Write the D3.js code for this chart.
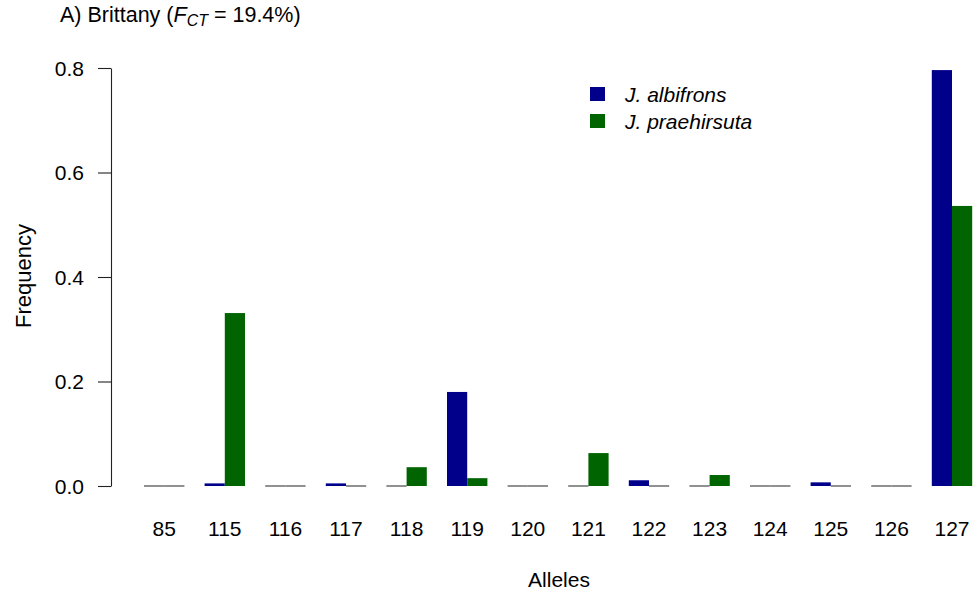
<!DOCTYPE html>
<html><head><meta charset="utf-8">
<script src="https://cdn.jsdelivr.net/npm/d3@7"></script>
<style>body{margin:0;background:#fff}svg{display:block}text{font-family:"Liberation Sans",Arial,Helvetica,sans-serif}</style>
</head><body>
<script>
const alleles = ["85","115","116","117","118","119","120","121","122","123","124","125","126","127"];
const albifrons = [0,0.005,0,0.005,0,0.180,0,0,0.011,0,0,0.007,0,0.796];
const praehirsuta = [0,0.331,0,0,0.036,0.015,0,0.063,0,0.021,0,0,0,0.536];
const seriesNames = ["J. albifrons","J. praehirsuta"];
const seriesColors = ["#00008B","#006400"];
const yTicks = [0,0.2,0.4,0.6,0.8];

const W=973,H=597, FS=21;
const svg=d3.select("body").append("svg").attr("width",W).attr("height",H);

const unit=20.2, x0=144-unit; // R barplot beside: space c(0,1)
const xs=d3.scaleLinear().domain([0,1]).range([x0,x0+unit]);
const y=d3.scaleLinear().domain([0,0.8]).range([486,68]);

const groups=alleles.map((a,i)=>({a,i,vals:[albifrons[i],praehirsuta[i]]}));
const g=svg.append("g");
groups.forEach(d=>{
  d.vals.forEach((v,j)=>{
    const left=xs(d.i*3+1+j), right=xs(d.i*3+2+j);
    if(v>0){
      g.append("rect").attr("x",left).attr("y",y(v)).attr("width",right-left).attr("height",y(0)-y(v)).attr("fill",seriesColors[j]);
    } else {
      g.append("line").attr("x1",left).attr("x2",right).attr("y1",y(0)).attr("y2",y(0)).attr("stroke","#555").attr("stroke-width",1.3);
    }
  });
  svg.append("text").attr("x",xs(d.i*3+2)).attr("y",536).attr("text-anchor","middle").attr("font-size",FS).text(d.a);
});

// y axis
const ya=svg.append("g").attr("transform","translate(111,0)")
  .call(d3.axisLeft(y).tickValues(yTicks).tickFormat(d3.format(".1f")).tickSize(13).tickSizeOuter(0));
ya.select(".domain").attr("stroke","#222").attr("stroke-width",1.1);
ya.selectAll(".tick line").attr("stroke","#222").attr("stroke-width",1.1);
ya.selectAll(".tick text").attr("font-size",FS).attr("fill","#000").attr("x",-27).attr("dy","0.35em").attr("font-family","Liberation Sans, Arial, sans-serif");

svg.append("text").attr("transform","translate(31,276) rotate(-90)").attr("text-anchor","middle").attr("font-size",22).text("Frequency");
svg.append("text").attr("x",559).attr("y",587).attr("text-anchor","middle").attr("font-size",FS).text("Alleles");

// title
const t=svg.append("text").attr("x",60).attr("y",21.5).attr("font-size",21.5);
t.append("tspan").text("A) Brittany (");
t.append("tspan").attr("font-style","italic").text("F");
t.append("tspan").attr("font-style","italic").attr("font-size",16).attr("dy",4).text("CT");
t.append("tspan").attr("dy",-4).text(" = 19.4%)");

// legend
const lg=svg.append("g");
seriesNames.forEach((n,j)=>{
  lg.append("rect").attr("x",590).attr("y",87+j*27).attr("width",15).attr("height",14).attr("fill",seriesColors[j]);
  lg.append("text").attr("x",625).attr("y",101.5+j*27).attr("font-size",FS).attr("font-style","italic").text(n);
});
</script>
</body></html>
